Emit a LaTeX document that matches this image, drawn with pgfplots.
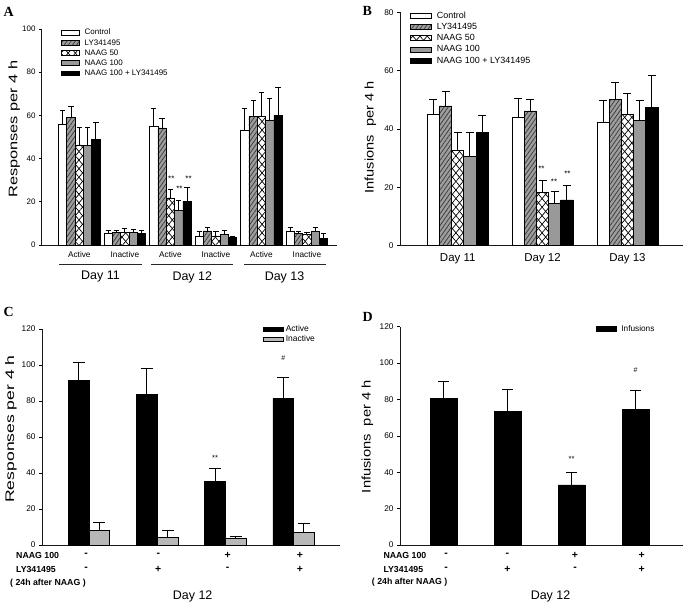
\documentclass[border=0pt]{standalone}
\usepackage{fontspec}
\setmainfont{Liberation Sans}
\newfontfamily\lserif{Liberation Serif}
\usepackage{pgfplots}
\pgfplotsset{compat=1.18}
\usetikzlibrary{patterns.meta}
\definecolor{lygray}{gray}{0.62}
\definecolor{ngray}{gray}{0.6}
\definecolor{inact}{gray}{0.72}
\newcommand\fs[1]{\fontsize{#1}{#1}\selectfont}
\newcommand\legW{20bp}
\newcommand\legH{2.4bp}
\tikzset{
 sCtrl/.style={fill=white,draw=black},
 sLY/.style={fill=lygray,draw=black,postaction={pattern={Lines[angle=55,distance=3.4bp,line width=0.8bp]},pattern color=black!75}},
 sN50/.style={fill=white,draw=black,
   postaction={pattern={Lines[angle=50,distance=5.5bp,line width=0.7bp]},pattern color=black},
   postaction={pattern={Lines[angle=-50,distance=5.5bp,line width=0.7bp]},pattern color=black}},
 sN100/.style={fill=ngray,draw=black},
 sCombo/.style={fill=black,draw=black},
 sInact/.style={fill=inact,draw=black},
}
\pgfplotsset{
 panel/.style={
  scale only axis, clip=false,
  axis x line=bottom, axis y line=left, axis line style={-, line width=1bp, black!90},
  ybar=0pt, ymin=0,
  tick align=outside, major tick length=3bp,
  ytick style={line width=0.7bp, black},
  x tick style={draw=none},
  /pgf/number format/assume math mode=true,
  error bars/y dir=plus, error bars/y explicit,
  error bars/error mark=|,
  error bars/error bar style={line width=1bp, black},
  legend cell align=left,
  every axis plot/.append style={line width=0.75bp},
 },
 legbox/.style={legend image code/.code={\draw[##1] (0bp,-\legH) rectangle (\legW,\legH);}},
}
\begin{document}
\begin{tikzpicture}
\useasboundingbox (0,0) rectangle (685bp,-605bp);
% ---------------- Panel A
\renewcommand\legW{18.3bp}\renewcommand\legH{2.4bp}
\begin{axis}[panel, at={(42bp,-245bp)}, anchor=south west, width=295bp, height=216bp,
 xmin=-0.82, xmax=5.66, ymax=100, ytick={0,20,...,100},
 bar width=8.33bp,
 xtick={0,...,5}, xticklabels={Active,Inactive,Active,Inactive,Active,Inactive},
 xticklabel style={font=\fs{8.3}},
 yticklabel style={font=\fs{8}},
 error bars/error mark options={black,line width=1bp,mark size=2.6bp},
 legend style={at={(0.065,1.003)}, anchor=north west, draw=none, fill=none, inner sep=0pt, outer sep=0pt,
   row sep=1.35bp, column sep=4bp, font=\fs{8},
   nodes={inner sep=0.5bp, text height=6bp, text depth=1.8bp, anchor=west}},
]
\addplot[sCtrl,legbox] coordinates {(0,55.9) +- (0,6.4) (1,5.4) +- (0,1.5) (2,54.9) +- (0,8.2) (3,4.2) +- (0,2.0) (4,53.2) +- (0,9.9) (5,6.2) +- (0,1.8)};
\addplot[sLY,legbox] coordinates {(0,59.1) +- (0,4.9) (1,5.9) +- (0,1.0) (2,54.2) +- (0,4.3) (3,6.5) +- (0,1.4) (4,59.7) +- (0,7.3) (5,5.4) +- (0,0.9)};
\addplot[sN50,legbox] coordinates {(0,46.3) +- (0,8.3) (1,5.9) +- (0,1.7) (2,21.8) +- (0,4.1) (3,4.2) +- (0,2.1) (4,59.7) +- (0,10.8) (5,4.9) +- (0,1.0)};
\addplot[sN100,legbox] coordinates {(0,46.0) +- (0,8.6) (1,5.9) +- (0,1.4) (2,16.2) +- (0,4.6) (3,4.9) +- (0,1.9) (4,57.9) +- (0,9.7) (5,6.2) +- (0,1.7)};
\addplot[sCombo,legbox] coordinates {(0,48.9) +- (0,7.6) (1,5.4) +- (0,1.2) (2,20.2) +- (0,6.2) (3,3.7) +- (0,0.3) (4,60.0) +- (0,12.7) (5,3.2) +- (0,1.9)};
\legend{Control, LY341495, NAAG 50, NAAG 100, NAAG 100 + LY341495}
\node[font=\fs{8}] at (axis cs:2.02,30.5) {**};
\node[font=\fs{8}] at (axis cs:2.2,26.0) {**};
\node[font=\fs{8}] at (axis cs:2.4,30.5) {**};
\end{axis}
% ---------------- Panel B
\renewcommand\legW{21bp}\renewcommand\legH{2.5bp}
\begin{axis}[panel, at={(400bp,-245.7bp)}, anchor=south west, width=283bp, height=233.4bp,
 xmin=-0.68, xmax=2.655, ymax=80, ytick={0,20,...,80},
 bar width=12.2bp,
 xtick={0,1,2}, xticklabels={Day 11,Day 12,Day 13},
 xticklabel style={font=\fs{11.5}, yshift=-1bp},
 yticklabel style={font=\fs{8.3}},
 error bars/error mark options={black,line width=1bp,mark size=4bp},
 legend style={at={(0.036,1.006)}, anchor=north west, draw=none, fill=none, inner sep=0pt, outer sep=0pt,
   row sep=1.55bp, column sep=4.5bp, font=\fs{9},
   nodes={inner sep=0.5bp, text height=6.7bp, text depth=2bp, anchor=west}},
]
\addplot[sCtrl,legbox] coordinates {(0,45.0) +- (0,5.0) (1,44.0) +- (0,6.4) (2,42.4) +- (0,7.3)};
\addplot[sLY,legbox] coordinates {(0,47.9) +- (0,4.8) (1,46.2) +- (0,3.8) (2,50.2) +- (0,5.6)};
\addplot[sN50,legbox] coordinates {(0,32.8) +- (0,5.9) (1,18.3) +- (0,3.9) (2,44.9) +- (0,7.2)};
\addplot[sN100,legbox] coordinates {(0,30.7) +- (0,8.0) (1,14.5) +- (0,4.2) (2,43.0) +- (0,6.8)};
\addplot[sCombo,legbox] coordinates {(0,38.7) +- (0,6.1) (1,15.7) +- (0,5.1) (2,47.3) +- (0,11.0)};
\legend{Control, LY341495, NAAG 50, NAAG 100, NAAG 100 + LY341495}
\node[font=\fs{8}] at (axis cs:0.987,26.3) {**};
\node[font=\fs{8}] at (axis cs:1.135,21.8) {**};
\node[font=\fs{8}] at (axis cs:1.293,24.8) {**};
\end{axis}
% ---------------- Panel C
\renewcommand\legW{20bp}\renewcommand\legH{2.4bp}
\begin{axis}[panel, at={(42bp,-545bp)}, anchor=south west, width=298bp, height=216bp,
 xmin=-0.69, xmax=3.68, ymax=120, ytick={0,20,...,120},
 bar width=20.7bp, xtick=\empty,
 yticklabel style={font=\fs{8.3}},
 error bars/error mark options={black,line width=1bp,mark size=6bp},
 legend style={at={(0.74,1.02)}, anchor=north west, draw=none, fill=none, inner sep=0pt, outer sep=0pt,
   row sep=0.8bp, column sep=2bp, font=\fs{8.5},
   nodes={inner sep=0.5bp, text height=6.3bp, text depth=1.9bp, anchor=west}},
]
\addplot[sCombo,legbox] coordinates {(0,91.5) +- (0,10.0) (1,83.7) +- (0,14.6) (2,35.2) +- (0,7.4) (3,81.3) +- (0,12.0)};
\addplot[sInact,legbox] coordinates {(0,8.3) +- (0,4.1) (1,4.4) +- (0,3.6) (2,3.9) +- (0,1.1) (3,7.0) +- (0,4.9)};
\legend{Active, Inactive}
\node[font=\fs{7.5}] at (axis cs:1.8485,48.5) {**};
\node[font=\fs{7}] at (axis cs:2.8485,104) {\#};
\end{axis}
% ---------------- Panel D
\renewcommand\legW{20bp}\renewcommand\legH{2.5bp}
\begin{axis}[panel, at={(400bp,-545bp)}, anchor=south west, width=283bp, height=218.3bp,
 xmin=-0.68, xmax=3.74, ymax=120, ytick={0,20,...,120},
 bar width=26.7bp, xtick=\empty,
 yticklabel style={font=\fs{8.3}},
 error bars/error mark options={black,line width=1bp,mark size=5.5bp},
 legend style={at={(0.693,1.0087)}, anchor=north west, draw=none, fill=none, inner sep=0pt, outer sep=0pt,
   row sep=0.8bp, column sep=4bp, font=\fs{8.3},
   nodes={inner sep=0.5bp, text height=6.2bp, text depth=1.9bp, anchor=west}},
]
\addplot[sCombo,legbox] coordinates {(0,80.4) +- (0,9.7) (1,73.3) +- (0,12.1) (2,33.0) +- (0,6.9) (3,74.6) +- (0,10.6)};
\legend{Infusions}
\node[font=\fs{7.5}] at (axis cs:2,47.5) {**};
\node[font=\fs{7}] at (axis cs:3,96) {\#};
\end{axis}
% ---------------- Labels
\node[anchor=base west, inner sep=0, font=\lserif\bfseries\fs{14}] at (3.5bp,-16bp) {A};
\node[anchor=base west, inner sep=0, font=\lserif\bfseries\fs{14}] at (362.5bp,-15bp) {B};
\node[anchor=base west, inner sep=0, font=\lserif\bfseries\fs{14}] at (3.5bp,-316.5bp) {C};
\node[anchor=base west, inner sep=0, font=\lserif\bfseries\fs{14}] at (362.5bp,-321.7bp) {D};
\node[rotate=90, inner sep=0] at (14.2bp,-129bp) {\fs{12.5}\scalebox{1.315}[1]{Responses per 4 h}};
\node[rotate=90, inner sep=0] at (370.3bp,-137.5bp) {\fs{12.5}\scalebox{1.17}[1]{Infusions\ \ per 4 h}};
\node[rotate=90, inner sep=0] at (10.8bp,-429bp) {\fs{12.5}\scalebox{1.41}[1]{Responses per 4 h}};
\node[rotate=90, inner sep=0] at (367.5bp,-436.7bp) {\fs{12.5}\scalebox{1.18}[1]{Infusions\ \ per 4 h}};
% Panel A day groups
\draw[line width=0.9bp, black!85] (59bp,-264.5bp) -- (142bp,-264.5bp);
\draw[line width=0.9bp, black!85] (151bp,-264.5bp) -- (233bp,-264.5bp);
\draw[line width=0.9bp, black!85] (244bp,-264.5bp) -- (326bp,-264.5bp);
\node[font=\fs{12.5}] at (100.5bp,-277bp) {Day 11};
\node[font=\fs{12.5}] at (192.3bp,-277bp) {Day 12};
\node[font=\fs{12.5}] at (284.5bp,-277bp) {Day 13};
% Panel C / D treatment rows
\begin{scope}[every node/.style={inner sep=0, font=\bfseries\fs{8.8}}]
\node[anchor=west] at (16bp,-555bp) {NAAG 100};
\node[anchor=west] at (16bp,-569.3bp) {LY341495};
\node[anchor=west] at (10bp,-583.3bp) {( 24h after NAAG )};
\node[anchor=west] at (383.3bp,-555bp) {NAAG 100};
\node[anchor=west] at (383.3bp,-569.3bp) {LY341495};
\node[anchor=west] at (371.7bp,-582.7bp) {( 24h after NAAG )};
\end{scope}
\begin{scope}[every node/.style={inner sep=0, font=\bfseries\fs{10.5}}]
\node at (86bp,-555bp) {-};   \node at (158.3bp,-555bp) {-};   \node at (227.7bp,-555bp) {+};   \node at (300bp,-555bp) {+};
\node at (86bp,-569.3bp) {-}; \node at (158.3bp,-569.3bp) {+}; \node at (227.7bp,-569.3bp) {-}; \node at (300bp,-569.3bp) {+};
\node at (446bp,-555bp) {-};   \node at (507.3bp,-555bp) {-};   \node at (575bp,-555bp) {+};   \node at (641.7bp,-555bp) {+};
\node at (446bp,-569.3bp) {-}; \node at (507.3bp,-569.3bp) {+}; \node at (575bp,-569.3bp) {-}; \node at (641.7bp,-569.3bp) {+};
\end{scope}
\node[font=\fs{12.5}] at (192.7bp,-596bp) {Day 12};
\node[font=\fs{12.5}] at (550.5bp,-596.7bp) {Day 12};
\end{tikzpicture}
\end{document}
